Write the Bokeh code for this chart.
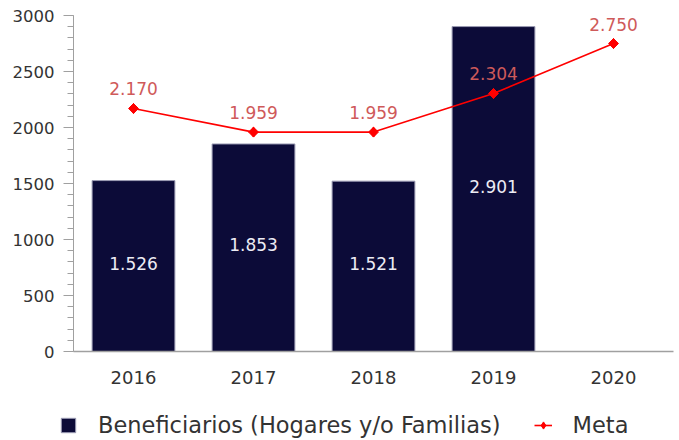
from bokeh.plotting import figure
from bokeh.models import (ColumnDataSource, Range1d, Legend, LegendItem,
                          LabelSet, FixedTicker)
from bokeh.core.properties import value
from bokeh.embed import file_html
from bokeh.resources import INLINE

years = ["2016", "2017", "2018", "2019", "2020"]
bar_years = ["2016", "2017", "2018", "2019"]
beneficiarios = [1526, 1853, 1521, 2901]
meta = [2170, 1959, 1959, 2304, 2750]
y_ticks = [0, 500, 1000, 1500, 2000, 2500, 3000]
y_minor_ticks = list(range(0, 3001, 100))

def fmt(v):
    return f"{v:,}".replace(",", ".")

x_pos = {y: i for i, y in enumerate(years)}

bar_src = ColumnDataSource(dict(
    x=[x_pos[y] for y in bar_years], top=beneficiarios,
    mid=[v / 2 for v in beneficiarios],
    lab=[fmt(v) for v in beneficiarios],
))
meta_src = ColumnDataSource(dict(x=[x_pos[y] for y in years], y=meta,
                                 lab=[fmt(v) for v in meta]))

FONT = "DejaVu Sans"

# layout geometry (pixels) -> ranges so that the plot area fills the canvas
W, H = 679, 440
LEFT, RIGHT, TOP, BOTTOM = 73, 673, 15, 351      # plot-area edges in pixels
n = len(years)
upx = n / (RIGHT - LEFT)                          # category units per pixel
vpx = y_ticks[-1] / (BOTTOM - TOP)                # value units per pixel
x_range = Range1d(-0.5 - LEFT * upx, n - 0.5 + (W - RIGHT) * upx)
y_range = Range1d(-(H - BOTTOM) * vpx, y_ticks[-1] + TOP * vpx)

p = figure(x_range=x_range, y_range=y_range, width=W, height=H,
           min_border=0, output_backend="svg", toolbar_location=None)
p.outline_line_color = None
p.xgrid.visible = False
p.ygrid.visible = False

bars = p.vbar(x="x", top="top", width=0.69, source=bar_src,
              fill_color="#0c0b38", line_color="#9c9cb4", line_width=1)
line = p.line(x="x", y="y", source=meta_src, line_color="#ff0000", line_width=1.6)
diam = p.scatter(x="x", y="y", source=meta_src, marker="diamond", size=10,
                 fill_color="#ff0000", line_color="#ff0000")
pts = p.scatter(x="x", y="y", source=meta_src, marker="square", angle=0.785398,
                size=7, fill_color="#ff0000", line_color="#ff0000")

bar_labels = LabelSet(x="x", y="mid", text="lab", source=bar_src,
                      text_align="center", text_baseline="middle", y_offset=3,
                      text_color="#ececf4", text_font=value(FONT), text_font_size="17px")
meta_labels = LabelSet(x="x", y="y", text="lab", source=meta_src,
                       text_align="center", text_baseline="bottom", y_offset=13,
                       text_color="#cf5a5a", text_font=value(FONT), text_font_size="17px")
p.add_layout(bar_labels)
p.add_layout(meta_labels)

# y axis
ya = p.yaxis[0]
ya.fixed_location = -0.5
ya.bounds = (y_ticks[0], y_ticks[-1])
ya.ticker = FixedTicker(ticks=y_ticks, minor_ticks=y_minor_ticks)
ya.axis_line_color = "#a0a0a0"
ya.major_tick_line_color = "#a0a0a0"
ya.minor_tick_line_color = "#a0a0a0"
ya.major_tick_in = 0
ya.major_tick_out = 10
ya.minor_tick_in = 0
ya.minor_tick_out = 6
ya.major_label_standoff = 9
ya.major_label_text_font = FONT
ya.major_label_text_font_size = "16.5px"
ya.major_label_text_color = "#333333"

# x axis
xa = p.xaxis[0]
xa.fixed_location = 0
xa.bounds = (-0.5, n - 0.5)
xa.ticker = FixedTicker(ticks=list(range(n)), minor_ticks=[])
xa.major_label_overrides = {i: y for i, y in enumerate(years)}
xa.axis_line_color = "#a0a0a0"
xa.axis_line_width = 1.5
xa.major_tick_line_color = None
xa.minor_tick_line_color = None
xa.major_tick_in = 0
xa.major_tick_out = 0
xa.major_label_standoff = 19
xa.major_label_text_font = FONT
xa.major_label_text_font_size = "18px"
xa.major_label_text_color = "#333333"

legend = Legend(items=[
    LegendItem(label="Beneficiarios (Hogares y/o Familias)", renderers=[bars]),
    LegendItem(label="Meta", renderers=[line, diam]),
], orientation="horizontal", location=(59, 2),
    glyph_width=18, glyph_height=18, label_standoff=21, spacing=33,
    padding=0, margin=0,
    label_text_font=FONT, label_text_font_size="22.5px", label_text_color="#333333",
    border_line_alpha=0, background_fill_alpha=0)
p.add_layout(legend, "center")

open("out.html", "w").write(file_html(p, INLINE))
